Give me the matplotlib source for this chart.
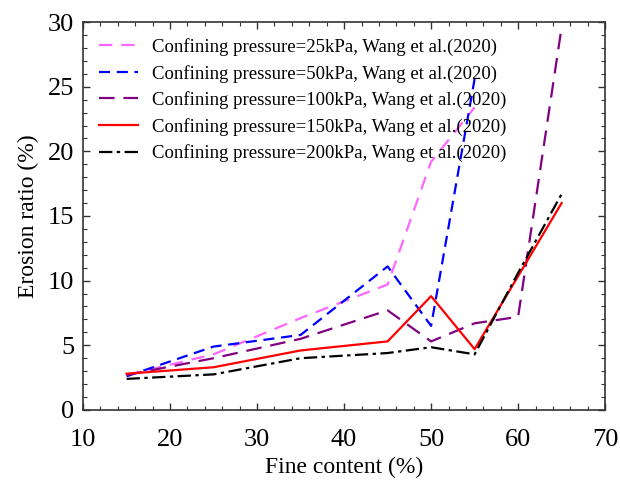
import matplotlib
matplotlib.use("Agg")
import matplotlib.pyplot as plt
from matplotlib.ticker import MultipleLocator

plt.rcParams['font.family'] = ['Liberation Serif', 'DejaVu Serif']
plt.rcParams['mathtext.fontset'] = 'stix'

fine_25 = [15, 25, 35, 45, 50, 55]
ratio_25 = [2.7, 4.3, 7.1, 9.7, 19.2, 23.4]

fine_50 = [15, 25, 35, 45, 50, 55]
ratio_50 = [2.6, 4.9, 5.8, 11.1, 6.5, 25.6]

fine_100 = [15, 25, 35, 45, 50, 55, 60, 65]
ratio_100 = [2.7, 4.0, 5.5, 7.7, 5.3, 6.7, 7.2, 29.6]

fine_150 = [15, 25, 35, 45, 50, 55, 65]
ratio_150 = [2.8, 3.3, 4.6, 5.3, 8.8, 4.7, 16.0]

fine_200 = [15, 25, 35, 45, 50, 55, 60, 65]
ratio_200 = [2.4, 2.75, 4.0, 4.4, 4.85, 4.3, 10.6, 16.7]

labels = [
    "Confining pressure=25kPa, Wang et al.(2020)",
    "Confining pressure=50kPa, Wang et al.(2020)",
    "Confining pressure=100kPa, Wang et al.(2020)",
    "Confining pressure=150kPa, Wang et al.(2020)",
    "Confining pressure=200kPa, Wang et al.(2020)",
]

fig = plt.figure(figsize=(6.2, 4.8), dpi=100)
ax = fig.add_axes([0.134, 0.146, 0.842, 0.808])

ax.plot(fine_25, ratio_25, color='#FF66FF', lw=1.6, dashes=(6, 4), label=labels[0])
ax.plot(fine_50, ratio_50, color='#0000FF', lw=1.6, dashes=(5, 3), label=labels[1])
ax.plot(fine_100, ratio_100, color='#800080', lw=1.6, dashes=(7, 4), label=labels[2])
ax.plot(fine_150, ratio_150, color='#FF0000', lw=1.6, label=labels[3])
ax.plot(fine_200, ratio_200, color='black', lw=1.6, dashes=(6, 2, 1.5, 2), label=labels[4])

ax.set_xlim(10, 70)
ax.set_ylim(0, 30)
ax.xaxis.set_major_locator(MultipleLocator(10))
ax.xaxis.set_minor_locator(MultipleLocator(2))
ax.yaxis.set_major_locator(MultipleLocator(5))
ax.yaxis.set_minor_locator(MultipleLocator(1))
ax.tick_params(which='both', direction='in', top=True, right=True, labelsize=19, color='#333333')
ax.tick_params(which='major', length=5, width=1)
ax.tick_params(which='minor', length=3, width=0.8)
ax.tick_params(axis='x', which='major', pad=14)
ax.tick_params(axis='y', which='major', pad=6.5)
for s in ax.spines.values():
    s.set_color('#333333')
    s.set_linewidth(1.2)

ax.set_xlabel("Fine content (%)", fontsize=17, labelpad=4)
ax.set_ylabel("Erosion ratio (%)", fontsize=17, labelpad=6)

ax.legend(loc='upper left', frameon=False, fontsize=13.5, handlelength=2.1,
          handletextpad=0.75, labelspacing=0.46,
          bbox_to_anchor=(0.0, 1.0), borderaxespad=0.45)

fig.savefig("out.png", dpi=100)
